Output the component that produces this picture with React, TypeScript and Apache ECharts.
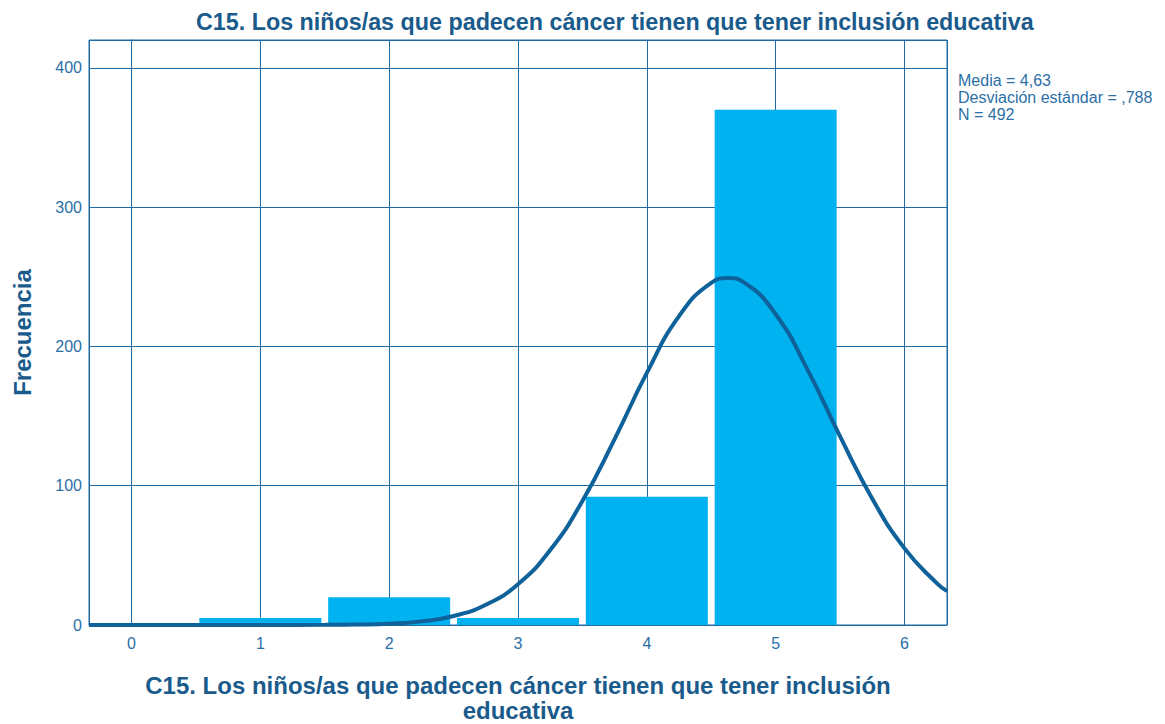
import React, { useEffect, useRef } from "react";
import * as echarts from "echarts";

const titleText = "C15. Los niños/as que padecen cáncer tienen que tener inclusión educativa";
const xAxisName = "C15. Los niños/as que padecen cáncer tienen que tener inclusión\neducativa";
const yAxisName = "Frecuencia";
const statsLines = ["Media = 4,63", "Desviación estándar = ,788", "N = 492"];

const barValues = [1, 2, 3, 4, 5];
const barCounts = [5, 20, 5, 92, 370];

const curveX = [-0.33, 0, 0.5, 1, 1.5, 1.75, 2, 2.25, 2.5, 2.75, 3, 3.25, 3.5, 3.75, 4, 4.25, 4.5, 4.63, 4.75, 5, 5.25, 5.5, 5.75, 6, 6.25, 6.33];
const curveY = [0, 0, 0, 0.01, 0.09, 0.31, 0.95, 2.6, 6.5, 14.5, 29.3, 53.8, 89.1, 133.5, 181.0, 221.8, 245.7, 249.1, 246.2, 223.1, 182.8, 135.4, 90.7, 55.0, 30.1, 24.3];

const xTicks = [0, 1, 2, 3, 4, 5, 6];
const yTicks = [0, 100, 200, 300, 400];

const FONT = "Arial, 'Liberation Sans', sans-serif";
const GRID_COLOR = "#1f6aa3";
const LABEL_COLOR = "#2b6fa6";
const TITLE_COLOR = "#1a5b8c";

export default function App() {
  const ref = useRef<HTMLDivElement>(null);
  useEffect(() => {
    if (!ref.current) return;
    const chart = echarts.init(ref.current, undefined, { renderer: "svg" });
    chart.setOption({
      animation: false,
      backgroundColor: "#ffffff",
      title: {
        text: titleText,
        left: 191,
        top: 5,
        textStyle: { fontFamily: FONT, fontSize: 23.3, fontWeight: "bold", color: TITLE_COLOR },
      },
      grid: {
        left: 89,
        right: 218,
        top: 40,
        bottom: 99,
        show: true,
        borderColor: GRID_COLOR,
        borderWidth: 1,
        containLabel: false,
        outerBoundsMode: "none",
      },
      xAxis: {
        type: "value",
        min: -0.33,
        max: 6.33,
        splitNumber: 7,
        name: xAxisName,
        nameLocation: "middle",
        nameGap: 48,
        nameTextStyle: { fontFamily: FONT, fontSize: 24, fontWeight: "bold", color: TITLE_COLOR, lineHeight: 25 },
        axisLine: { show: true, lineStyle: { color: GRID_COLOR, width: 1 } },
        axisTick: { show: false },
        axisLabel: {
          fontFamily: FONT,
          fontSize: 16,
          color: LABEL_COLOR,
          margin: 10,
          formatter: (v: number) => (xTicks.some((t) => Math.abs(t - v) < 1e-6) ? String(Math.round(v)) : ""),
        },
        splitLine: { show: true, lineStyle: { color: GRID_COLOR, width: 1 } },
      },
      yAxis: {
        type: "value",
        min: 0,
        max: 420,
        interval: 100,
        name: yAxisName,
        nameLocation: "middle",
        nameGap: 55,
        nameTextStyle: { fontFamily: FONT, fontSize: 24, fontWeight: "bold", color: TITLE_COLOR },
        axisLine: { show: true, lineStyle: { color: GRID_COLOR, width: 1 } },
        axisTick: { show: false },
        axisLabel: {
          fontFamily: FONT,
          fontSize: 16,
          color: LABEL_COLOR,
          margin: 7,
          formatter: (v: number) => (yTicks.indexOf(v) >= 0 ? String(v) : ""),
        },
        splitLine: { show: true, lineStyle: { color: GRID_COLOR, width: 1 } },
      },
      graphic: statsLines.map((t, i) => ({
        type: "text",
        left: 958,
        top: 72 + i * 17,
        style: { text: t, fontFamily: FONT, fontSize: 16, fill: LABEL_COLOR },
      })),
      series: [
        {
          type: "bar",
          data: barValues.map((v, i) => [v, barCounts[i]]),
          barWidth: 122,
          itemStyle: { color: "#00b2f0" },
          z: 2,
        },
        {
          type: "line",
          data: curveX.map((x, i) => [x, curveY[i]]),
          smooth: true,
          showSymbol: false,
          lineStyle: { color: "#0f619a", width: 4 },
          z: 3,
        },
      ],
    });
    return () => chart.dispose();
  }, []);
  return <div ref={ref} style={{ width: 1165, height: 724, position: "absolute", left: 0, top: 0 }} />;
}
